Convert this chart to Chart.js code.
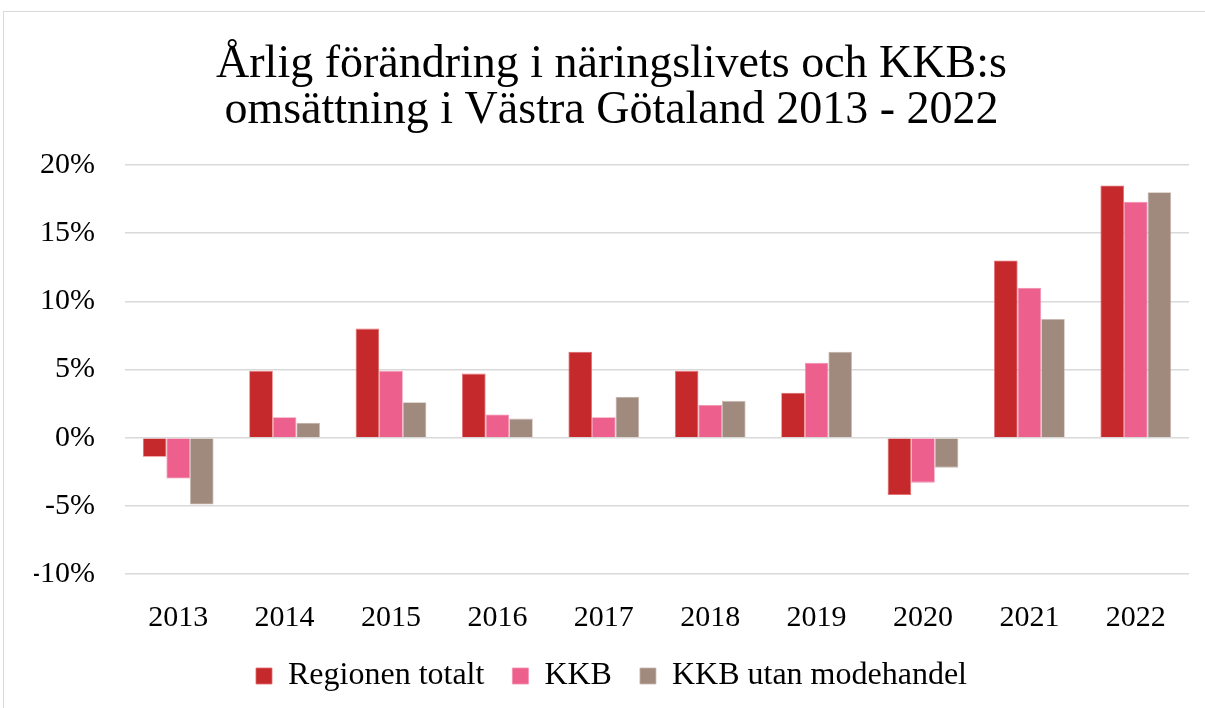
<!DOCTYPE html>
<html>
<head>
<meta charset="utf-8">
<script src="https://cdn.jsdelivr.net/npm/chart.js@4/dist/chart.umd.min.js"></script>
<style>
  html, body { margin: 0; padding: 0; background: #fff; }
  #wrap { position: relative; width: 1205px; height: 708px; overflow: hidden; }
  #frame { position: absolute; left: 3px; top: 11px; width: 1210px; height: 710px; border: 1px solid #d9d9d9; box-sizing: border-box; }
  #chartBox { position: absolute; left: 0; top: 0; width: 1205px; height: 708px; }
</style>
</head>
<body>
<div id="wrap">
  <div id="frame"></div>
  <div id="chartBox"><canvas id="salesCanvas"></canvas></div>
</div>
<script>
var years = ['2013', '2014', '2015', '2016', '2017', '2018', '2019', '2020', '2021', '2022'];
var regionTotal = [-1.4, 4.9, 8.0, 4.7, 6.3, 4.9, 3.3, -4.2, 13.0, 18.5];
var kkb = [-3.0, 1.5, 4.9, 1.7, 1.5, 2.4, 5.5, -3.3, 11.0, 17.3];
var kkbNoFashion = [-4.9, 1.1, 2.6, 1.4, 3.0, 2.7, 6.3, -2.2, 8.7, 18.0];
var yTicks = [-10, -5, 0, 5, 10, 15, 20];

var serif = "'Liberation Serif', 'DejaVu Serif', serif";

var ctx = document.getElementById('salesCanvas').getContext('2d');

var salesChart = new Chart(ctx, {
    type: 'bar',
    data: {
        labels: years,
        datasets: [
            {
                label: 'Regionen totalt',
                data: regionTotal,
                backgroundColor: '#c6292b',
                borderColor: '#e56a6e',
                borderWidth: 0.8
            },
            {
                label: 'KKB',
                data: kkb,
                backgroundColor: '#ed5f8d',
                borderColor: '#f48fb0',
                borderWidth: 0.8
            },
            {
                label: 'KKB utan modehandel',
                data: kkbNoFashion,
                backgroundColor: '#a0897d',
                borderColor: '#c9b8b0',
                borderWidth: 0.8
            }
        ]
    },
    options: {
        responsive: true,
        maintainAspectRatio: false,
        animation: false,
        layout: { padding: { left: 34, right: 16, top: 42, bottom: 6 } },
        datasets: {
            bar: { categoryPercentage: 0.665, barPercentage: 1.0 }
        },
        plugins: {
            title: {
                display: true,
                text: ['Årlig förändring i näringslivets och KKB:s', 'omsättning i Västra Götaland 2013 - 2022'],
                color: '#000',
                font: { family: serif, size: 46, weight: 'normal', lineHeight: 1.0 },
                padding: { top: 0, bottom: 31 }
            },
            legend: {
                position: 'bottom',
                labels: {
                    color: '#000',
                    font: { family: serif, size: 32 },
                    boxWidth: 16,
                    boxHeight: 16,
                    padding: 28
                }
            },
            tooltip: { enabled: false }
        },
        scales: {
            x: {
                // fixed height: labels sit ~40px under the plot, legend right below
                afterFit: function (axis) { axis.height = 58; },
                grid: { display: false, drawTicks: false },
                border: { display: false },
                ticks: {
                    color: '#000',
                    font: { family: serif, size: 30 },
                    padding: 26
                }
            },
            y: {
                min: -10,
                max: 20,
                afterBuildTicks: function (axis) {
                    axis.ticks = yTicks.map(function (v) { return { value: v }; });
                },
                // fixed axis width so the plot starts where the reference does
                afterFit: function (axis) { axis.width = 91; },
                grid: { color: '#d9d9d9', lineWidth: 1.5, drawTicks: false },
                border: { display: false },
                ticks: {
                    color: '#000',
                    font: { family: serif, size: 30 },
                    padding: 30,
                    callback: function (v) { return v + '%'; }
                }
            }
        }
    }
});
</script>
</body>
</html>
